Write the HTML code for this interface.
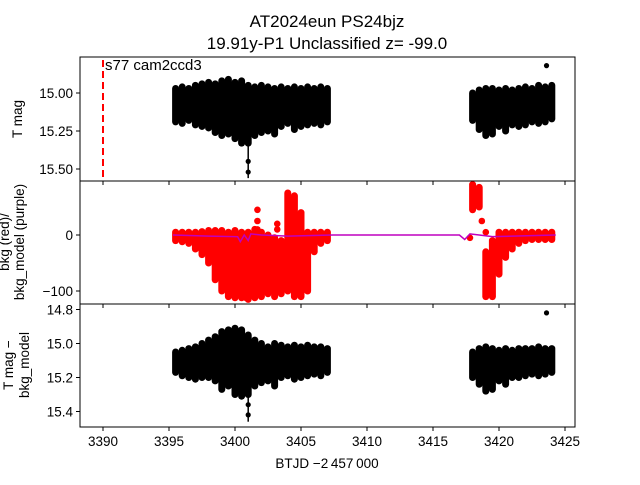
<!DOCTYPE html>
<html><head><meta charset="utf-8"><style>
body{margin:0;background:#fff}
svg{font-family:"Liberation Sans","DejaVu Sans",sans-serif}
</style></head><body>
<svg id="c" width="640" height="480" viewBox="0 0 640 480" xmlns="http://www.w3.org/2000/svg">
<rect width="640" height="480" fill="#fff"/>
<text x="327" y="27" font-size="17" text-anchor="middle">AT2024eun  PS24bjz</text>
<text x="327" y="49" font-size="17" text-anchor="middle">19.91y-P1 Unclassified z= -99.0</text>
<g id="g"></g>
</svg>
<script>
const topT=[3395.5,3396,3396.5,3397,3397.5,3398,3398.5,3399,3399.5,3400,3400.5,3401,3401.5,3402,3402.5,3403,3403.5,3404,3404.5,3405,3405.5,3406,3406.5,3407,3418,3418.5,3419,3419.5,3420,3420.5,3421,3421.5,3422,3422.5,3423,3423.5,3424];
const topLo=[14.97,14.96,14.97,14.95,14.94,14.93,14.94,14.92,14.91,14.93,14.92,14.95,14.96,14.95,14.96,14.97,14.96,14.97,14.96,14.97,14.96,14.97,14.96,14.97,15.0,14.98,14.97,14.97,14.98,14.97,14.98,14.97,14.96,14.97,14.95,14.96,14.95];
const topHi=[15.19,15.2,15.18,15.21,15.22,15.23,15.26,15.28,15.27,15.3,15.33,15.33,15.28,15.26,15.25,15.27,15.22,15.2,15.24,15.22,15.21,15.2,15.21,15.19,15.18,15.24,15.28,15.27,15.22,15.25,15.21,15.22,15.21,15.19,15.2,15.19,15.17];
const topPts=[[3401,15.45],[3401,15.52],[3423.6,14.82]];
const botLo=[15.05,15.04,15.03,15.02,15.0,14.98,14.96,14.93,14.92,14.91,14.92,14.95,14.98,15.0,15.02,15.0,15.01,15.02,15.01,15.02,15.01,15.02,15.02,15.03,15.05,15.03,15.02,15.03,15.04,15.03,15.04,15.03,15.03,15.03,15.02,15.03,15.03];
const botHi=[15.17,15.19,15.2,15.21,15.2,15.2,15.22,15.27,15.25,15.3,15.31,15.3,15.25,15.23,15.22,15.25,15.2,15.19,15.21,15.2,15.19,15.18,15.19,15.17,15.2,15.24,15.28,15.27,15.22,15.24,15.2,15.2,15.19,15.18,15.19,15.18,15.17];
const botPts=[[3401,15.36],[3401,15.42],[3423.6,14.82]];
const midT=[3395.5,3396,3396.5,3397,3397.5,3398,3398.5,3399,3399.5,3400,3400.5,3401,3401.5,3402,3402.5,3403,3403.5,3404,3404.5,3405,3405.5,3406,3406.5,3407,3418,3418.5,3419,3419.5,3420,3420.5,3421,3421.5,3422,3422.5,3423,3423.5,3424];
const midLo=[-10,-12,-15,-25,-35,-50,-80,-100,-110,-112,-112,-115,-112,-110,-105,-110,-105,-100,-110,-110,-100,-30,-15,-10,45,50,-110,-110,-70,-40,-25,-15,-10,-8,-8,-8,-8];
const midHi=[5,5,5,5,6,8,8,8,5,8,5,5,10,5,0,-5,-10,75,70,40,5,5,5,5,90,85,-30,-10,5,5,5,5,5,5,5,5,5];
const midPts=[[3401.7,45],[3401.7,25],[3401.7,10],[3400.8,-112],[3419,5],[3419.5,-20],[3417.8,-5],[3418.7,25],[3403.2,20],[3403.2,10]];
const modT=[3395.3,3398,3400.2,3400.4,3400.7,3401,3401.2,3402,3404,3407.4,3417,3417.4,3417.8,3418.5,3419.5,3424.3];
const modV=[0,-2,-3,-12,0,-10,2,0,-2,0,0,-8,2,0,-3,0];
const xTicks=[3390,3395,3400,3405,3410,3415,3420,3425];
const topTicks=[15.00,15.25,15.50];
const midTicks=[0,-100];
const botTicks=[14.8,15.0,15.2,15.4];

const NS='http://www.w3.org/2000/svg';
const g=document.getElementById('g');
function mk(t,a,txt){const e=document.createElementNS(NS,t);for(const k in a)e.setAttribute(k,a[k]);if(txt!==undefined)e.textContent=txt;g.appendChild(e);return e;}
const L=80,R=575;
const X=t=>103+(t-3390)*13.2;
const Yt=m=>93+(m-15.0)*152;
const Ym=v=>235-v*0.56;
const Yb=m=>309.5+(m-14.8)*170;
const panels=[[57,181],[181,304],[304,427]];

function band(T,lo,hi,Y,col,name){
  for(let i=0;i<T.length;i++){
    const e=mk('line',{x1:X(T[i]),x2:X(T[i]),y1:Y(lo[i]),y2:Y(hi[i]),stroke:col,'stroke-width':7,'stroke-linecap':'round'});
    
    
  }
}
function pts(P,Y,col,r,name){
  P.forEach(p=>{const e=mk('circle',{cx:X(p[0]),cy:Y(p[1]),r:r,fill:col});
    
    });
}
// top
band(topT,topLo,topHi,Yt,'#000','top-band');
{const e=mk('line',{x1:X(3401),x2:X(3401),y1:Yt(15.3),y2:Yt(15.56),stroke:'#000','stroke-width':1.5});

}
pts(topPts,Yt,'#000',2.6,'top-point');
{const e=mk('line',{x1:103,x2:103,y1:60,y2:181,stroke:'#f00','stroke-width':2,'stroke-dasharray':'7,4'});

}
mk('text',{x:105,y:70,'font-size':15,},'s77 cam2ccd3');
// middle
band(midT,midLo,midHi,Ym,'#f00','bkg-band');
pts(midPts,Ym,'#f00',3.3,'bkg-point');
{const e=mk('polyline',{points:modT.map((t,i)=>X(t)+','+Ym(modV[i])).join(' '),fill:'none',stroke:'#bf00bf','stroke-width':1.5});

}
// bottom
band(topT,botLo,botHi,Yb,'#000','bottom-band');
{const e=mk('line',{x1:X(3401),x2:X(3401),y1:Yb(15.3),y2:Yb(15.46),stroke:'#000','stroke-width':1.5});

}
pts(botPts,Yb,'#000',2.6,'bottom-point');
// frames
panels.forEach((p,i)=>{const e=mk('rect',{x:L,y:p[0],width:R-L,height:p[1]-p[0],fill:'none',stroke:'#000','stroke-width':1});

});
// y ticks
function yt(ticks,Y,fmt,name){ticks.forEach(v=>{const y=Y(v);
  mk('line',{x1:L-4,x2:L,y1:y,y2:y,stroke:'#000'});
  const e=mk('text',{x:L-7,y:y+5,'font-size':13.5,'text-anchor':'end'},fmt(v));
  
  });}
yt(topTicks,Yt,v=>v.toFixed(2),'top-y-tick');
yt(midTicks,Ym,v=>v<0?'\u2212'+(-v):String(v),'mid-y-tick');
yt(botTicks,Yb,v=>v.toFixed(1),'bottom-y-tick');
// x ticks
xTicks.forEach(t=>{const x=X(t);
  panels.forEach(p=>mk('line',{x1:x,x2:x,y1:p[1],y2:p[1]+4,stroke:'#000'}));
  const e=mk('text',{x:x,y:446,'font-size':13.5,'text-anchor':'middle'},String(t));
  
  });
mk('text',{x:327,y:468,'font-size':13.5,'text-anchor':'middle',},'BTJD \u22122\u2009457\u2009000');
mk('text',{x:0,y:0,'font-size':13.5,'text-anchor':'middle',transform:'translate(22,119) rotate(-90)',},'T mag');
mk('text',{x:0,y:0,'font-size':13.5,'text-anchor':'middle',transform:'translate(9,242) rotate(-90)',},'bkg (red)/');
mk('text',{x:0,y:0,'font-size':13.5,'text-anchor':'middle',transform:'translate(24,242) rotate(-90)',},'bkg_model (purple)');
mk('text',{x:0,y:0,'font-size':13.5,'text-anchor':'middle',transform:'translate(13,365) rotate(-90)',},'T mag \u2212');
mk('text',{x:0,y:0,'font-size':13.5,'text-anchor':'middle',transform:'translate(29,365) rotate(-90)',},'bkg_model');
</script>
</body></html>
